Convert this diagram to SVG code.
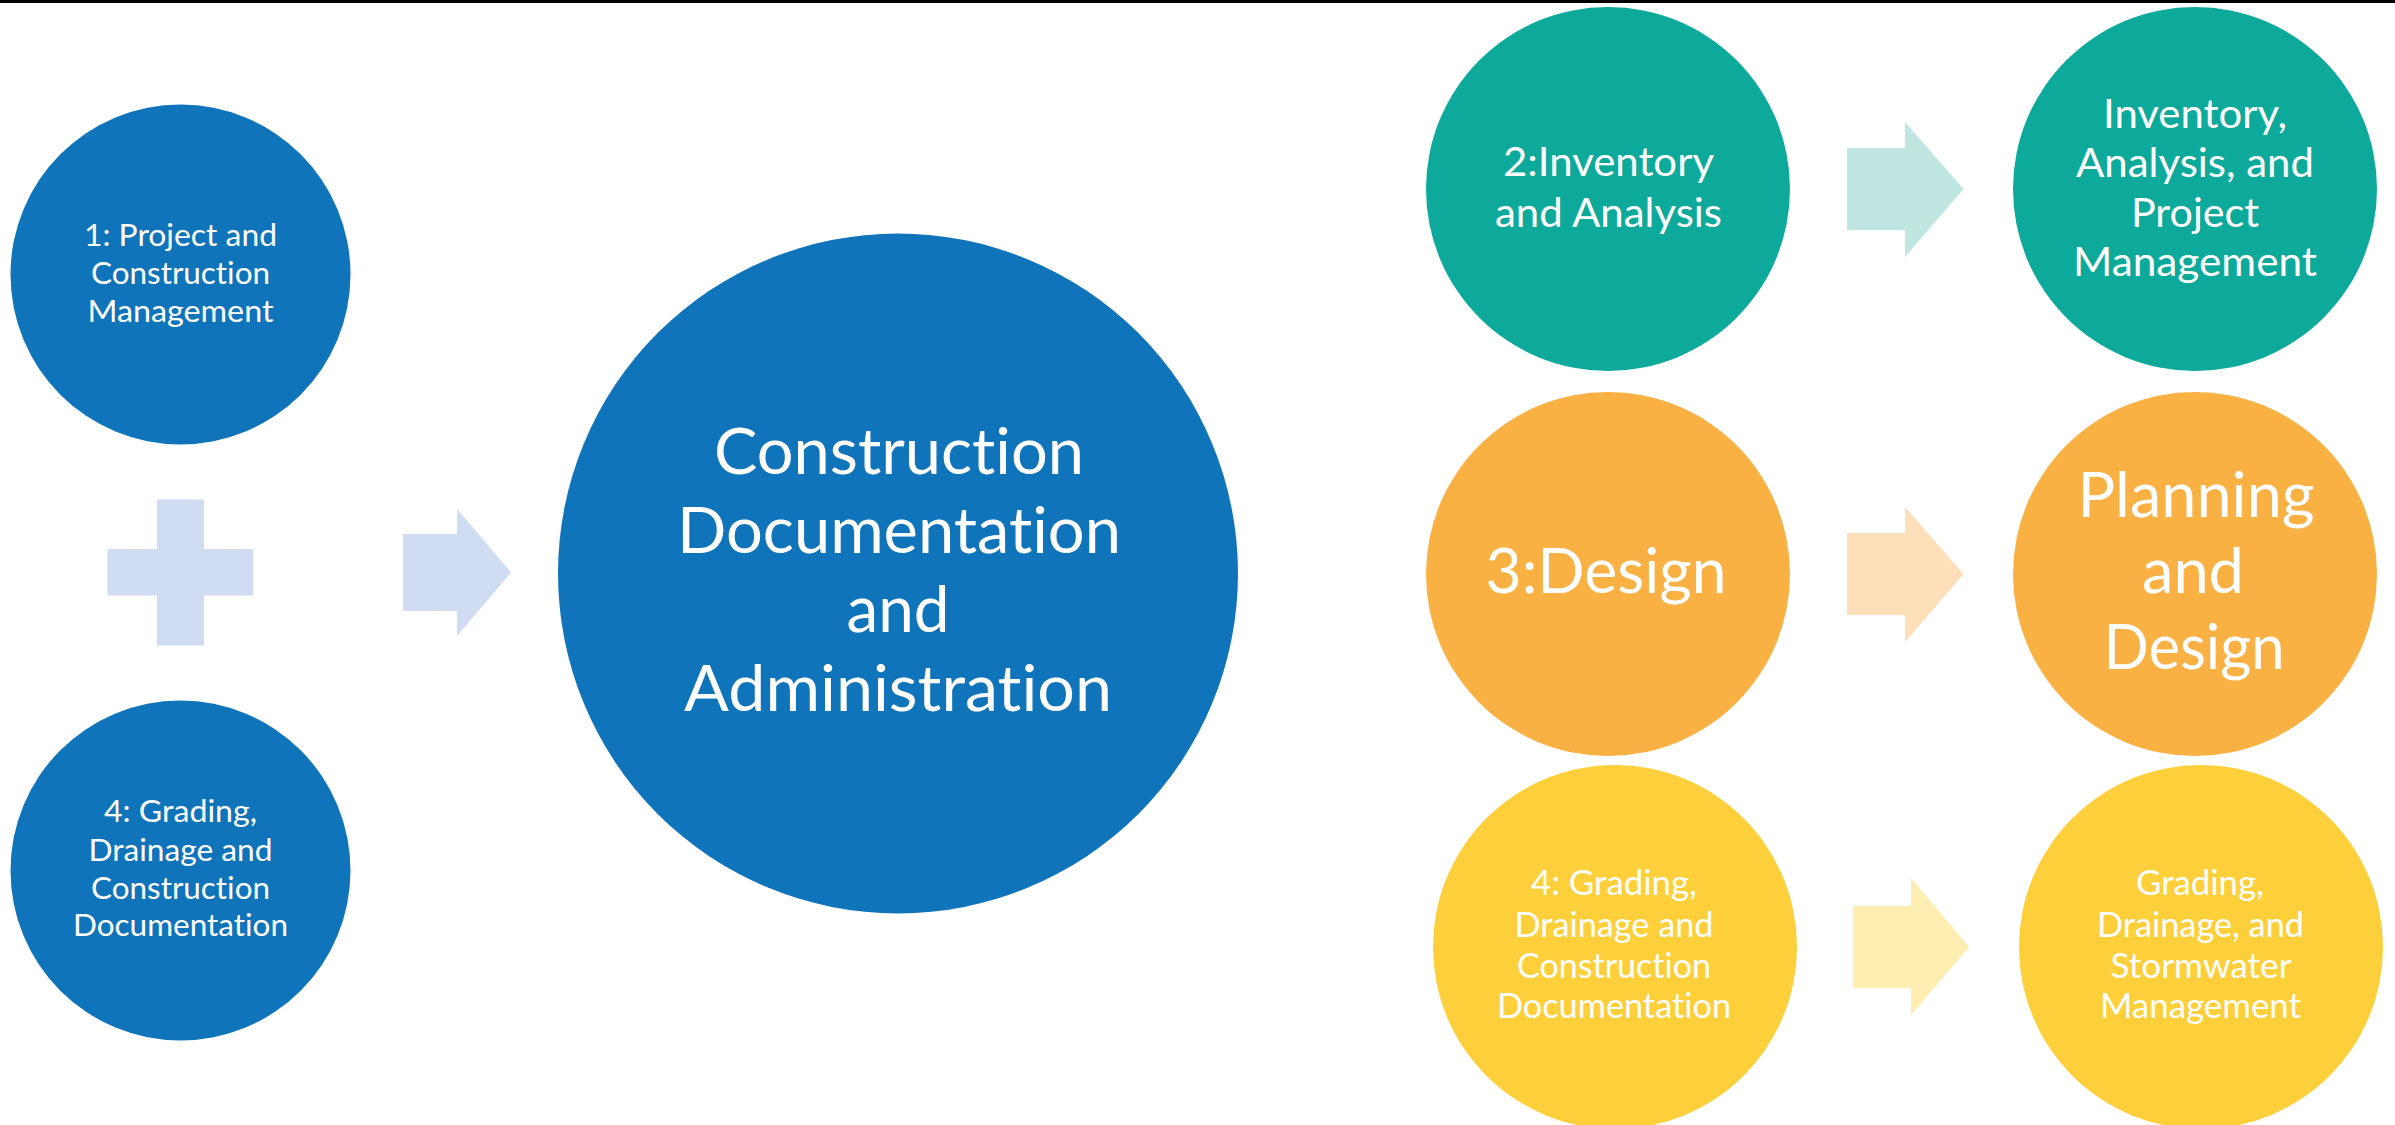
<svg xmlns="http://www.w3.org/2000/svg" width="2395" height="1125" viewBox="0 0 2395 1125">
  <style>
    .lbl { font-family: Lato, "Open Sans", "Liberation Sans", sans-serif; fill: #ffffff; text-anchor: middle; font-variant-ligatures: none; font-feature-settings: "liga" 0, "clig" 0; }
    .s { font-size: 31px; }
    .sm { font-size: 34px; }
    .m { font-size: 41px; }
    .l { font-size: 62px; }
    .xl { font-size: 64px; }
    .blue { fill: #1074BA; }
    .teal { fill: #0DAA9B; }
    .orange { fill: #F9B143; }
    .yellow { fill: #FDD03B; }
  </style>
  <rect x="0" y="0" width="2395" height="1125" fill="#ffffff"/>
  <rect x="0" y="0" width="2395" height="3" fill="#000000"/>

  <!-- plus sign and block arrows -->
  <g id="connectors">
    <path id="plus" d="M157,499.5 H204 V549 H253.3 V595.5 H204 V645.4 H157 V595.5 H107.5 V549 H157 Z" fill="#CFDCF1"/>
    <polygon id="arrow-main" points="403,534 457,534 457,509 511,572.5 457,636 457,611 403,611" fill="#CFDCF1"/>
    <polygon id="arrow-teal" points="1847,148 1905,148 1905,122 1963.5,189 1905,257 1905,230 1847,230" fill="#BFE6E1"/>
    <polygon id="arrow-orange" points="1847,533 1905,533 1905,507 1963.5,574 1905,642 1905,615 1847,615" fill="#FEDFB9"/>
    <polygon id="arrow-yellow" points="1853,906 1911,906 1911,878 1969,947 1911,1015 1911,988 1853,988" fill="#FEEEB1"/>
  </g>

  <g id="node-project">
    <circle class="blue" cx="180.5" cy="274.5" r="170"/>
    <text class="lbl s" x="180.5" y="246" textLength="193" lengthAdjust="spacingAndGlyphs">1: Project and</text>
    <text class="lbl s" x="180.5" y="284" textLength="179" lengthAdjust="spacingAndGlyphs">Construction</text>
    <text class="lbl s" x="180.5" y="322" textLength="186" lengthAdjust="spacingAndGlyphs">Management</text>
  </g>

  <g id="node-grading-left">
    <circle class="blue" cx="180.5" cy="870.5" r="170"/>
    <text class="lbl s" x="180.5" y="822" textLength="153" lengthAdjust="spacingAndGlyphs">4: Grading,</text>
    <text class="lbl s" x="180.5" y="861" textLength="184" lengthAdjust="spacingAndGlyphs">Drainage and</text>
    <text class="lbl s" x="180.5" y="899" textLength="179" lengthAdjust="spacingAndGlyphs">Construction</text>
    <text class="lbl s" x="180.5" y="936" textLength="215" lengthAdjust="spacingAndGlyphs">Documentation</text>
  </g>

  <g id="node-cda">
    <circle class="blue" cx="898" cy="573.5" r="340"/>
    <text class="lbl xl" x="899" y="474" textLength="370" lengthAdjust="spacingAndGlyphs">Construction</text>
    <text class="lbl xl" x="899" y="553" textLength="444" lengthAdjust="spacingAndGlyphs">Documentation</text>
    <text class="lbl xl" x="898" y="632" textLength="103" lengthAdjust="spacingAndGlyphs">and</text>
    <text class="lbl xl" x="898" y="711" textLength="428" lengthAdjust="spacingAndGlyphs">Administration</text>
  </g>

  <g id="node-inventory">
    <circle class="teal" cx="1608" cy="189" r="182"/>
    <text class="lbl m" x="1608.5" y="176" textLength="211" lengthAdjust="spacingAndGlyphs">2:Inventory</text>
    <text class="lbl m" x="1608.5" y="227" textLength="227" lengthAdjust="spacingAndGlyphs">and Analysis</text>
  </g>

  <g id="node-inventory-result">
    <circle class="teal" cx="2195" cy="189" r="182"/>
    <text class="lbl m" x="2195" y="128" textLength="184" lengthAdjust="spacingAndGlyphs">Inventory,</text>
    <text class="lbl m" x="2195" y="177" textLength="238" lengthAdjust="spacingAndGlyphs">Analysis, and</text>
    <text class="lbl m" x="2195" y="227" textLength="128" lengthAdjust="spacingAndGlyphs">Project</text>
    <text class="lbl m" x="2195" y="276" textLength="244" lengthAdjust="spacingAndGlyphs">Management</text>
  </g>

  <g id="node-design">
    <circle class="orange" cx="1608" cy="574" r="182"/>
    <text class="lbl l" x="1606" y="593" textLength="241" lengthAdjust="spacingAndGlyphs">3:Design</text>
  </g>

  <g id="node-design-result">
    <circle class="orange" cx="2195" cy="574" r="182"/>
    <text class="lbl l" x="2196" y="517" textLength="237" lengthAdjust="spacingAndGlyphs">Planning</text>
    <text class="lbl l" x="2193" y="593" textLength="102" lengthAdjust="spacingAndGlyphs">and</text>
    <text class="lbl l" x="2194" y="669" textLength="181" lengthAdjust="spacingAndGlyphs">Design</text>
  </g>

  <g id="node-grading-right">
    <circle class="yellow" cx="1615" cy="947" r="182"/>
    <text class="lbl sm" x="1614" y="895" textLength="166" lengthAdjust="spacingAndGlyphs">4: Grading,</text>
    <text class="lbl sm" x="1614" y="937" textLength="199" lengthAdjust="spacingAndGlyphs">Drainage and</text>
    <text class="lbl sm" x="1614" y="978" textLength="194" lengthAdjust="spacingAndGlyphs">Construction</text>
    <text class="lbl sm" x="1614" y="1018" textLength="234" lengthAdjust="spacingAndGlyphs">Documentation</text>
  </g>

  <g id="node-grading-result">
    <circle class="yellow" cx="2201" cy="947" r="182"/>
    <text class="lbl sm" x="2200" y="895" textLength="128" lengthAdjust="spacingAndGlyphs">Grading,</text>
    <text class="lbl sm" x="2200.5" y="937" textLength="207" lengthAdjust="spacingAndGlyphs">Drainage, and</text>
    <text class="lbl sm" x="2201" y="978" textLength="181" lengthAdjust="spacingAndGlyphs">Stormwater</text>
    <text class="lbl sm" x="2200.5" y="1018" textLength="201" lengthAdjust="spacingAndGlyphs">Management</text>
  </g>
</svg>
